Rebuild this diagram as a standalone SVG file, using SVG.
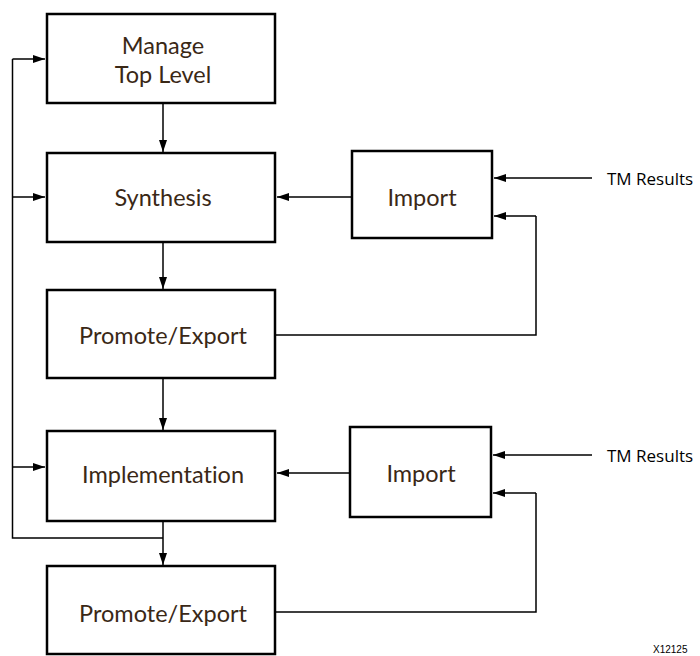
<svg xmlns="http://www.w3.org/2000/svg" width="700" height="656" viewBox="0 0 700 656">
<defs>
<marker id="ah" viewBox="0 0 12 8" refX="12" refY="4" markerWidth="12" markerHeight="8" markerUnits="userSpaceOnUse" orient="auto">
<path d="M0,0 L12,4 L0,8 Z" fill="#000"/>
</marker>
<style>
.box{fill:#fff;stroke:#000;stroke-width:2.5}
.lbl{font-family:Lato,"Open Sans",sans-serif;font-size:23.5px;fill:#3a2816;text-anchor:middle;dominant-baseline:central;font-variant-ligatures:none}
.tm{font-family:"Open Sans",Lato,sans-serif;font-size:17px;fill:#000;dominant-baseline:central}
.ln{fill:none;stroke:#000;stroke-width:1.5}
.ar{fill:none;stroke:#000;stroke-width:1.5;marker-end:url(#ah)}
</style>
</defs>
<g id="connectors">
<path class="ar" d="M163,103 L163,152"/>
<path class="ar" d="M163,242 L163,289"/>
<path class="ar" d="M163,379 L163,430"/>
<path class="ar" d="M163,521 L163,565"/>
<path class="ln" d="M163,538 L12.5,538 L12.5,59"/>
<path class="ar" d="M12.5,59 L45,59"/>
<path class="ar" d="M12.5,197 L45,197"/>
<path class="ar" d="M12.5,467 L45,467"/>
<path class="ar" d="M352,197 L277,197"/>
<path class="ar" d="M592,178 L494,178"/>
<path class="ln" d="M276,335 L536,335 L536,216"/>
<path class="ar" d="M536,216 L494,216"/>
<path class="ar" d="M350,473 L277,473"/>
<path class="ar" d="M592,455 L493,455"/>
<path class="ln" d="M276,612 L536,612 L536,493"/>
<path class="ar" d="M536,493 L493,493"/>
</g>
<g id="manage"><rect class="box" x="47" y="14" width="228" height="89"/><text class="lbl" x="163" y="45">Manage</text><text class="lbl" x="163" y="74">Top Level</text></g>
<g id="synthesis"><rect class="box" x="47" y="153" width="228" height="89"/><text class="lbl" x="163" y="197">Synthesis</text></g>
<g id="promote1"><rect class="box" x="47" y="290" width="228" height="88"/><text class="lbl" x="163" y="335">Promote/Export</text></g>
<g id="implementation"><rect class="box" x="47" y="431" width="228" height="90"/><text class="lbl" x="163" y="474">Implementation</text></g>
<g id="promote2"><rect class="box" x="47" y="566" width="228" height="88"/><text class="lbl" x="163" y="613">Promote/Export</text></g>
<g id="import1"><rect class="box" x="352" y="151" width="140" height="87"/><text class="lbl" x="422" y="197">Import</text></g>
<g id="import2"><rect class="box" x="350" y="427" width="141" height="90"/><text class="lbl" x="421" y="473">Import</text></g>
<g id="tm1"><text class="tm" x="607" y="178">TM Results</text></g>
<g id="tm2"><text class="tm" x="607" y="455">TM Results</text></g>
<text x="653" y="653" style="font-family:'Liberation Sans',sans-serif;font-size:10px;fill:#000">X12125</text>
</svg>
